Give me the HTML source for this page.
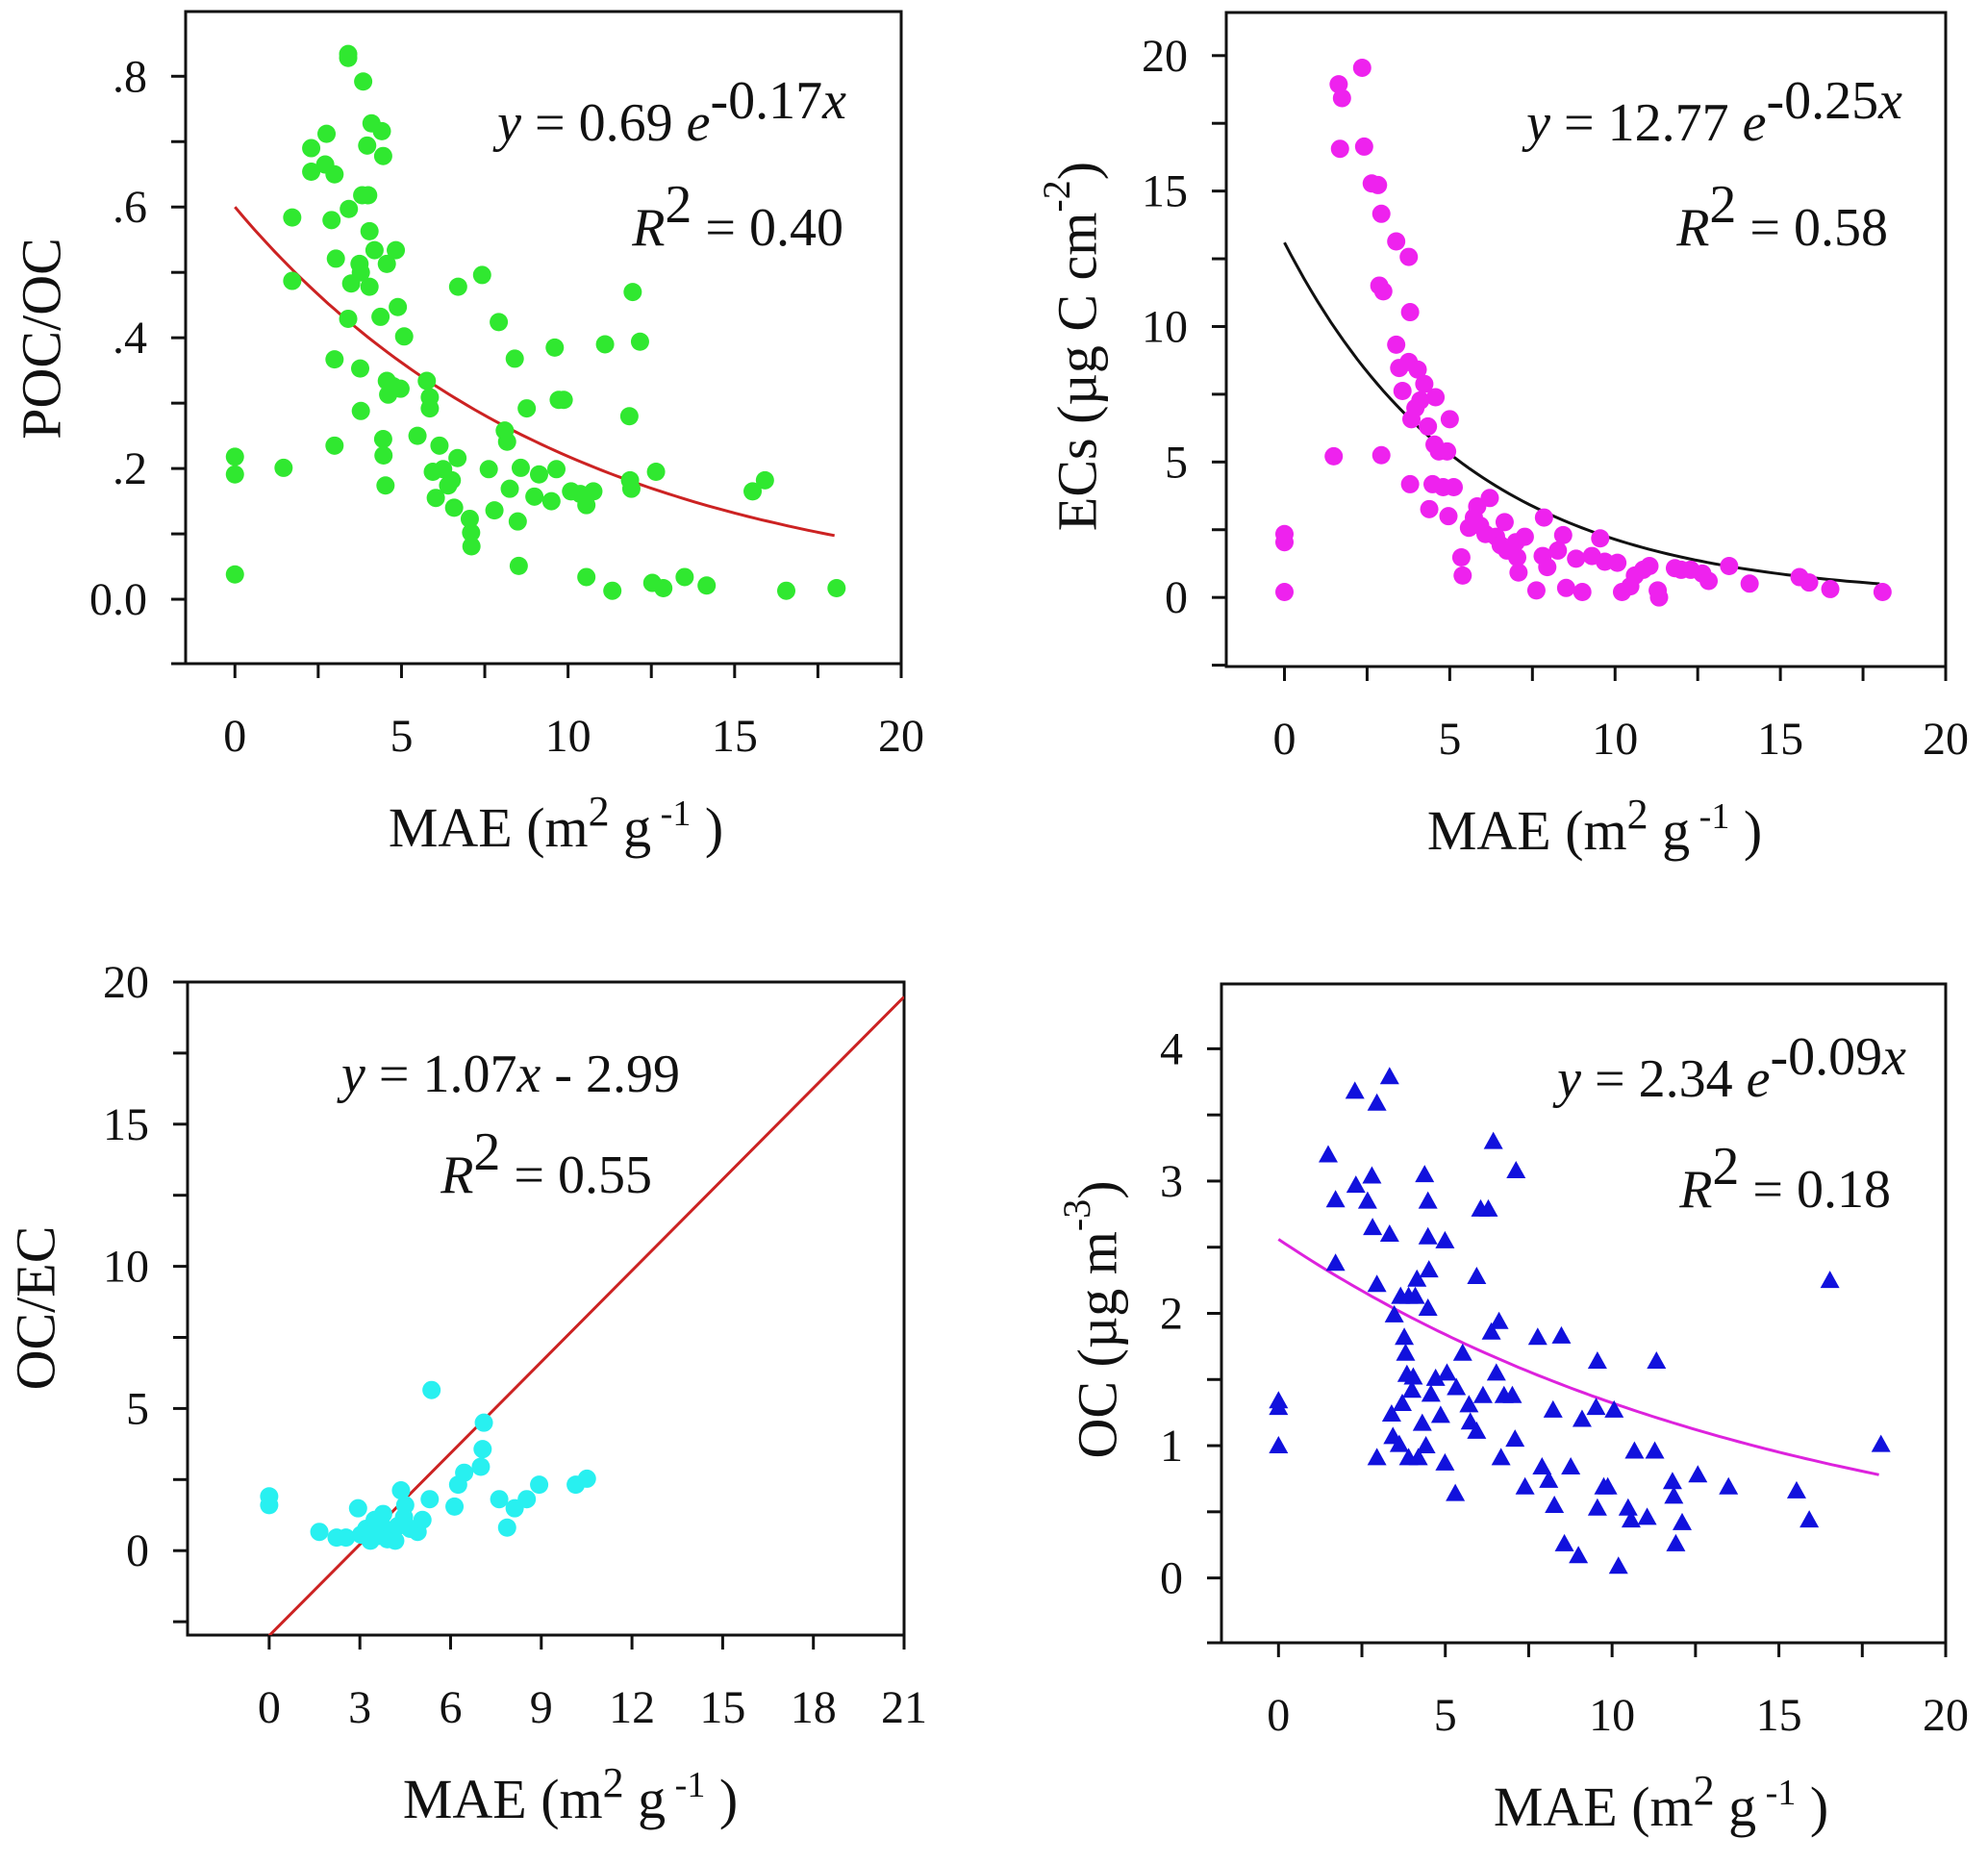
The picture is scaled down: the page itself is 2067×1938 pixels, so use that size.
<!DOCTYPE html>
<html><head><meta charset="utf-8">
<style>
html,body{margin:0;padding:0;background:#fff;}
svg{display:block;}
text{font-family:"Liberation Serif","Times New Roman",serif;fill:#111;}
</style></head>
<body>
<svg id="fig" width="2067" height="1938" viewBox="0 0 2067 1938" xmlns="http://www.w3.org/2000/svg"></svg>
<script>
// ---------- Panel 1 data: POC/OC vs MAE ----------
const p1X = [0,0,0,1.46,1.72,1.72,2.29,2.29,2.75,2.71,2.99,2.90,3.03,2.99,2.99,3.40,3.40,3.42,3.40,3.49,3.76,3.78,3.74,3.78,3.82,3.85,3.97,4.00,4.04,4.04,4.10,4.19,4.37,4.41,4.45,4.46,4.45,4.52,4.56,4.56,4.60,4.75,4.97,4.83,4.89,5.08,5.48,5.76,5.85,5.85,5.94,6.03,6.14,6.25,6.40,6.51,6.58,6.68,6.70,7.05,7.09,7.10,7.42,7.62,7.79,7.92,8.10,8.17,8.25,8.40,8.49,8.52,8.58,8.76,8.99,9.13,9.50,9.60,9.65,9.72,9.87,10.09,10.37,10.55,10.55,10.76,11.11,11.33,11.84,11.86,11.90,11.94,12.16,12.53,12.64,12.86,13.50,14.16,15.54,15.91,16.55,18.06];
const p1Y = [0.038,0.218,0.191,0.201,0.584,0.487,0.690,0.654,0.712,0.665,0.650,0.580,0.521,0.367,0.235,0.834,0.828,0.597,0.429,0.483,0.353,0.288,0.513,0.500,0.618,0.792,0.694,0.618,0.563,0.478,0.728,0.534,0.432,0.716,0.678,0.220,0.245,0.174,0.513,0.334,0.313,0.326,0.322,0.534,0.447,0.402,0.250,0.334,0.292,0.309,0.195,0.155,0.235,0.199,0.174,0.182,0.140,0.216,0.478,0.123,0.102,0.081,0.496,0.199,0.136,0.424,0.258,0.241,0.169,0.368,0.119,0.051,0.201,0.292,0.157,0.191,0.150,0.385,0.199,0.305,0.305,0.165,0.161,0.034,0.144,0.165,0.390,0.013,0.280,0.182,0.169,0.470,0.394,0.025,0.195,0.017,0.034,0.021,0.165,0.182,0.013,0.017];
const p1Fit = [0.60, 0.101];
const p1YTicks = [-0.1,0,0.1,0.2,0.3,0.4,0.5,0.6,0.7,0.8];
const p1YLabels = [".8",".6",".4",".2","0.0"];
const p1YLabelVals = [0.8,0.6,0.4,0.2,0];

// ---------- Panel 2 data: ECs vs MAE ----------
const p2X = [0,0,0,1.49,1.64,1.74,1.68,2.35,2.41,2.64,2.83,2.93,2.87,2.99,2.93,3.38,3.38,3.47,3.57,3.76,3.80,3.76,3.80,3.84,3.96,4.03,4.11,4.23,4.34,4.38,4.48,4.54,4.57,4.67,4.80,4.92,4.96,5.00,5.12,5.35,5.39,5.58,5.73,5.83,5.92,6.08,6.21,6.40,6.54,6.66,6.73,7.00,7.04,7.08,7.27,7.62,7.85,7.81,7.95,8.27,8.43,8.52,8.82,9.01,9.30,9.55,9.69,10.07,10.21,10.46,10.60,10.85,11.04,11.29,11.33,11.81,12.00,12.29,12.64,12.83,13.45,14.07,15.58,15.87,16.51,18.09];
const p2Y = [2.34,2.04,0.20,5.21,18.94,18.43,16.56,19.55,16.64,15.28,15.22,14.16,11.51,11.30,5.25,13.14,9.33,8.47,7.62,12.57,10.53,8.69,4.18,6.58,6.99,8.41,7.27,7.88,6.31,3.26,4.18,5.64,7.39,5.39,4.07,5.39,3.00,6.58,4.07,1.48,0.81,2.57,2.95,3.36,2.65,2.34,3.67,2.24,1.93,2.78,1.73,2.04,1.48,0.92,2.24,0.26,2.95,1.53,1.12,1.73,2.30,0.35,1.43,0.20,1.53,2.18,1.32,1.28,0.20,0.41,0.81,1.02,1.16,0.26,0.00,1.08,1.02,1.02,0.88,0.61,1.16,0.51,0.75,0.55,0.31,0.20];
const p2Fit = [13.1, 0.181];
const p2YTicks = [-2.5,0,2.5,5,7.5,10,12.5,15,17.5,20];
const p2YLabels = ["20","15","10","5","0"];
const p2YLabelVals = [20,15,10,5,0];

// ---------- Panel 3 data: OC/EC vs MAE ----------
const p3X = [0,0,1.66,2.23,2.54,2.94,3.04,3.21,3.35,3.49,3.63,3.77,3.83,3.91,4.06,4.17,4.26,4.36,4.46,4.50,4.66,4.83,4.91,5.07,5.31,5.37,6.13,6.25,6.45,7.00,7.06,7.10,7.61,7.87,8.12,8.52,8.93,10.14,10.51];
const p3Y = [1.91,1.60,0.66,0.46,0.46,1.49,0.56,0.77,0.35,1.08,0.52,1.29,0.77,0.40,0.56,0.35,0.87,2.12,1.18,1.60,0.77,0.77,0.66,1.08,1.81,5.65,1.55,2.32,2.74,2.95,3.57,4.50,1.81,0.81,1.49,1.81,2.32,2.32,2.53];
const p3Fit = [1.07, -2.99];
const p3YTicks = [-2.5,0,2.5,5,7.5,10,12.5,15,17.5,20];
const p3YLabels = ["20","15","10","5","0"];
const p3YLabelVals = [20,15,10,5,0];
const p3XTicks = [0,3,6,9,12,15,18,21];
const p3XLabels = ["0","3","6","9","12","15","18","21"];

// ---------- Panel 4 data: OC vs MAE ----------
const p4X = [0,0,0,1.49,1.71,1.71,2.29,2.32,2.67,2.80,2.82,2.95,2.95,2.95,3.33,3.33,3.39,3.43,3.47,3.62,3.66,3.71,3.77,3.81,3.85,3.90,3.90,4.00,4.04,4.10,4.15,4.19,4.31,4.38,4.42,4.48,4.48,4.48,4.51,4.57,4.71,4.86,4.99,4.99,5.05,5.30,5.33,5.52,5.71,5.75,5.94,5.94,6.06,6.13,6.29,6.38,6.44,6.53,6.61,6.67,6.76,7.01,7.09,7.12,7.39,7.77,7.90,8.10,8.23,8.27,8.48,8.57,8.76,8.99,9.10,9.56,9.52,9.56,9.75,9.87,10.06,10.19,10.48,10.57,10.67,11.05,11.28,11.33,11.81,11.85,11.91,12.10,12.57,13.49,15.53,15.91,16.53,18.06];
const p4Y = [1.34,1.29,1.00,3.20,2.86,2.38,3.68,2.97,2.85,3.04,2.65,3.59,2.22,0.91,3.79,2.60,1.24,1.07,1.99,1.01,2.13,1.32,1.82,1.70,1.54,2.13,0.91,1.42,1.52,2.13,2.26,0.91,1.17,3.05,1.00,2.58,2.85,2.04,2.33,1.39,1.51,1.23,2.55,0.87,1.55,0.64,1.44,1.70,1.31,1.18,1.11,2.28,2.79,1.38,2.79,1.86,3.30,1.55,1.94,0.91,1.38,1.38,1.05,3.08,0.69,1.82,0.84,0.74,1.27,0.55,1.83,0.26,0.84,0.17,1.20,1.64,1.29,0.53,0.69,0.69,1.27,0.09,0.53,0.44,0.96,0.46,0.96,1.64,0.73,0.62,0.26,0.42,0.78,0.69,0.66,0.44,2.25,1.01];
const p4Fit = [2.56, 0.066];
const p4YTicks = [-0.5,0,0.5,1,1.5,2,2.5,3,3.5,4];
const p4YLabels = ["4","3","2","1","0"];
const p4YLabelVals = [4,3,2,1,0];

const maeXTicks = [0,2.5,5,7.5,10,12.5,15,17.5,20];
const maeXLabels = ["0","5","10","15","20"];
const maeXLabelVals = [0,5,10,15,20];

const NS = "http://www.w3.org/2000/svg";
const svg = document.getElementById('fig');
function mk(tag, attrs, parent){
  const e = document.createElementNS(NS, tag);
  for (const k in attrs) e.setAttribute(k, attrs[k]);
  (parent||svg).appendChild(e);
  return e;
}

function panel(cfg){
  const g = mk('g', {});
  
  
  const {L,R,T,B,xr,yr} = cfg;
  const sx = v => L + (v - xr[0])/(xr[1]-xr[0])*(R-L);
  const sy = v => B - (v - yr[0])/(yr[1]-yr[0])*(B-T);
  const clipId = cfg.name + '-clip';
  const cp = mk('clipPath', {id: clipId}, g);
  mk('rect', {x:L, y:T, width:R-L, height:B-T}, cp);

  const fr = mk('rect', {x:L, y:T, width:R-L, height:B-T, fill:'none', stroke:'#111', 'stroke-width':3}, g);
  
  

  cfg.yTicks.forEach(v => {
    if (v < yr[0]-0.02*(yr[1]-yr[0])) return;
    const y = Math.min(sy(v), B);
    const t = mk('line', {x1:L-15, x2:L, y1:y, y2:y, stroke:'#111', 'stroke-width':3}, g);
    
    
  });
  cfg.yLabels.forEach((s,i) => {
    const t = mk('text', {x:L-40, y:sy(cfg.yLabelVals[i])+16, 'text-anchor':'end', 'font-size':48}, g);
    t.textContent = s;
    
    
  });
  cfg.xTicks.forEach(v => {
    const x = sx(v);
    const t = mk('line', {x1:x, x2:x, y1:B, y2:B+15, stroke:'#111', 'stroke-width':3}, g);
    
    
  });
  cfg.xLabels.forEach((s,i) => {
    const t = mk('text', {x:sx(cfg.xLabelVals[i]), y:B+91, 'text-anchor':'middle', 'font-size':48}, g);
    t.textContent = s;
    
    
  });

  const pts = [];
  if (cfg.linear){
    const [m,c] = cfg.fit;
    pts.push([sx(0), sy(c)], [sx(21), sy(m*21+c)]);
  } else {
    const [a,k] = cfg.fit;
    for (let i=0;i<=90;i++){ const v = 18*i/90; pts.push([sx(v), sy(a*Math.exp(-k*v))]); }
  }
  const fl = mk('polyline', {points: pts.map(p=>p[0].toFixed(1)+','+p[1].toFixed(1)).join(' '), fill:'none', stroke:cfg.fitColor, 'stroke-width':3, 'clip-path':'url(#'+clipId+')'}, g);
  
  

  cfg.xs.forEach((xv,i) => {
    const cx = sx(xv), cy = sy(cfg.ys[i]);
    let m;
    if (cfg.tri){
      m = mk('polygon', {points: `${cx},${cy-10} ${cx-10},${cy+8} ${cx+10},${cy+8}`, fill:cfg.color}, g);
    } else {
      m = mk('circle', {cx:cx, cy:cy, r:9.5, fill:cfg.color}, g);
    }
    
    
  });

  const yt = mk('text', {x:0, y:0, 'text-anchor':'middle', 'font-size':58, transform:`translate(${cfg.yTitleX},${cfg.yTitleY}) rotate(-90)`, 'dominant-baseline':'central'}, g);
  yt.innerHTML = cfg.yTitle;
  
  
  const xt = mk('text', {x:cfg.xTitleX, y:B+190, 'text-anchor':'middle', 'font-size':58}, g);
  xt.innerHTML = 'MAE (m<tspan dy="-22" font-size="44">2</tspan><tspan dy="22"> g</tspan><tspan dy="-22" font-size="38"> -1</tspan><tspan dy="22"> )</tspan>';
  
  

  const eq = mk('text', {x:cfg.eqX, y:cfg.eqY, 'text-anchor':'end', 'font-size':56}, g);
  eq.innerHTML = cfg.eq;
  
  
  const r2 = mk('text', {x:cfg.r2X, y:cfg.r2Y, 'text-anchor':'end', 'font-size':56}, g);
  r2.innerHTML = '<tspan font-style="italic">R</tspan><tspan dy="-24">2</tspan><tspan dy="24"> = ' + cfg.r2 + '</tspan>';
  
  
}

panel({name:'poc-oc-panel', L:193, R:937, T:12, B:690, xr:[-1.48,20], yr:[-0.0985,0.899],
  xs:p1X, ys:p1Y, color:'#30e830', fit:p1Fit, fitColor:'#cc2222',
  yTicks:p1YTicks, yLabels:p1YLabels, yLabelVals:p1YLabelVals,
  xTicks:maeXTicks, xLabels:maeXLabels, xLabelVals:maeXLabelVals,
  yTitle:'POC/OC', yTitleX:43, yTitleY:352, xTitleX:578,
  eq:'<tspan font-style="italic">y</tspan> = 0.69 <tspan font-style="italic">e</tspan><tspan dy="-23">-0.17<tspan font-style="italic">x</tspan></tspan>',
  eqX:880, eqY:146, r2:'0.40', r2X:877, r2Y:255});

panel({name:'ecs-panel', L:1275, R:2023, T:13, B:693, xr:[-1.76,20], yr:[-2.55,21.59],
  xs:p2X, ys:p2Y, color:'#ee22ee', fit:p2Fit, fitColor:'#111',
  yTicks:p2YTicks, yLabels:p2YLabels, yLabelVals:p2YLabelVals,
  xTicks:maeXTicks, xLabels:maeXLabels, xLabelVals:maeXLabelVals,
  yTitle:'ECs (µg C cm<tspan dy="-22" font-size="40">-2</tspan><tspan dy="22">)</tspan>', yTitleX:1120, yTitleY:360, xTitleX:1658,
  eq:'<tspan font-style="italic">y</tspan> = 12.77 <tspan font-style="italic">e</tspan><tspan dy="-23">-0.25<tspan font-style="italic">x</tspan></tspan>',
  eqX:1978, eqY:146, r2:'0.58', r2X:1963, r2Y:255});

panel({name:'oc-ec-panel', L:195, R:940, T:1021, B:1700, xr:[-2.70,21], yr:[-2.97,20], linear:true,
  xs:p3X, ys:p3Y, color:'#28f0f0', fit:p3Fit, fitColor:'#cc2222',
  yTicks:p3YTicks, yLabels:p3YLabels, yLabelVals:p3YLabelVals,
  xTicks:p3XTicks, xLabels:p3XLabels, xLabelVals:p3XTicks,
  yTitle:'OC/EC', yTitleX:37, yTitleY:1360, xTitleX:593,
  eq:'<tspan font-style="italic">y</tspan> = 1.07<tspan font-style="italic">x</tspan> - 2.99',
  eqX:707, eqY:1135, r2:'0.55', r2X:678, r2Y:1240});

panel({name:'oc-panel', L:1270, R:2023, T:1023, B:1708, xr:[-1.71,20], yr:[-0.49,4.49],
  xs:p4X, ys:p4Y, color:'#1111dd', tri:true, fit:p4Fit, fitColor:'#dd22dd',
  yTicks:p4YTicks, yLabels:p4YLabels, yLabelVals:p4YLabelVals,
  xTicks:maeXTicks, xLabels:maeXLabels, xLabelVals:maeXLabelVals,
  yTitle:'OC (µg m<tspan dy="-22" font-size="40">-3</tspan><tspan dy="22">)</tspan>', yTitleX:1141, yTitleY:1372, xTitleX:1727,
  eq:'<tspan font-style="italic">y</tspan> = 2.34 <tspan font-style="italic">e</tspan><tspan dy="-23">-0.09<tspan font-style="italic">x</tspan></tspan>',
  eqX:1982, eqY:1140, r2:'0.18', r2X:1966, r2Y:1255});
</script>
</body></html>
